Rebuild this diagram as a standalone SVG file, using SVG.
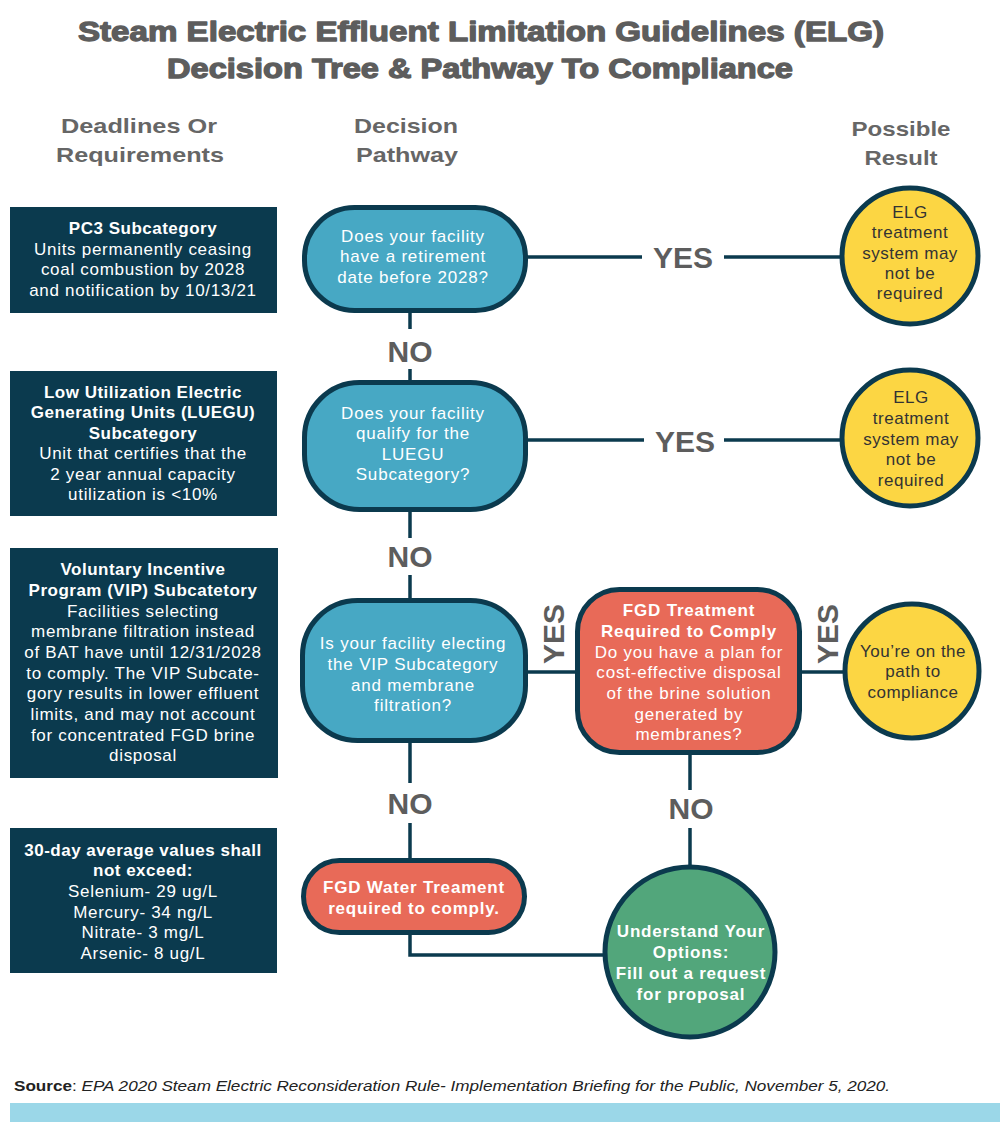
<svg xmlns="http://www.w3.org/2000/svg" width="1000" height="1122" viewBox="0 0 1000 1122">
<style>
.title{font-family:"Liberation Sans",Arial,sans-serif;font-weight:900;font-size:28px;fill:#5d5d5d;stroke:#5d5d5d;stroke-width:1.3;stroke-linejoin:round;text-anchor:middle}
.hdr{font-family:"Liberation Sans",Arial,sans-serif;font-weight:bold;font-size:21px;fill:#666;text-anchor:middle}
.box{fill:#0b3a4e}
.bt{font-family:"Liberation Sans",Arial,sans-serif;font-size:17px;letter-spacing:0.7px;fill:#fff;text-anchor:middle}
.bb{font-weight:bold;letter-spacing:0.5px}
.dec{fill:#47a8c4;stroke:#0b3a4e;stroke-width:5}
.red{fill:#e86a58;stroke:#0b3a4e;stroke-width:5}
.yel{fill:#fcd643;stroke:#0b3a4e;stroke-width:5}
.grn{fill:#52a67b;stroke:#0b3a4e;stroke-width:5}
.nt{font-family:"Liberation Sans",Arial,sans-serif;font-size:17px;letter-spacing:0.8px;fill:#fff;text-anchor:middle}
.yt{font-family:"Liberation Sans",Arial,sans-serif;font-size:17px;letter-spacing:0.5px;fill:#333;text-anchor:middle}
.lbl{font-family:"Liberation Sans",Arial,sans-serif;font-weight:900;font-size:30px;fill:#5d5d5d;text-anchor:middle}
.ln{stroke:#0b3a4e;stroke-width:3.5;fill:none}
.src{font-family:"Liberation Sans",Arial,sans-serif;font-size:15px;fill:#222}
</style>
<rect width="1000" height="1122" fill="#fff"/>
<g id="title">
<text class="title" x="481" y="41" textLength="806" lengthAdjust="spacingAndGlyphs">Steam Electric Effluent Limitation Guidelines (ELG)</text>
<text class="title" x="480" y="78" textLength="626" lengthAdjust="spacingAndGlyphs">Decision Tree &amp; Pathway To Compliance</text>
</g>
<g id="headers">
<text class="hdr" x="139" y="133" textLength="156" lengthAdjust="spacingAndGlyphs">Deadlines Or</text>
<text class="hdr" x="140" y="162" textLength="168" lengthAdjust="spacingAndGlyphs">Requirements</text>
<text class="hdr" x="406" y="133" textLength="104" lengthAdjust="spacingAndGlyphs">Decision</text>
<text class="hdr" x="407" y="162" textLength="102" lengthAdjust="spacingAndGlyphs">Pathway</text>
<text class="hdr" x="901" y="136" textLength="99" lengthAdjust="spacingAndGlyphs">Possible</text>
<text class="hdr" x="901" y="165" textLength="73" lengthAdjust="spacingAndGlyphs">Result</text>
</g>
<g id="connectors">
<line class="ln" x1="410" y1="312" x2="410" y2="329"/>
<line class="ln" x1="410" y1="369" x2="410" y2="381"/>
<line class="ln" x1="410" y1="511" x2="410" y2="538"/>
<line class="ln" x1="410" y1="575" x2="410" y2="600"/>
<line class="ln" x1="410" y1="741" x2="410" y2="783"/>
<line class="ln" x1="410" y1="823" x2="410" y2="860"/>
<polyline class="ln" points="410,934 410,955 604,955"/>
<line class="ln" x1="526" y1="257" x2="642" y2="257"/>
<line class="ln" x1="724" y1="257" x2="841" y2="257"/>
<line class="ln" x1="526" y1="440" x2="644" y2="440"/>
<line class="ln" x1="724" y1="440" x2="841" y2="440"/>
<line class="ln" x1="526" y1="672" x2="577" y2="672"/>
<line class="ln" x1="801" y1="672" x2="843" y2="672"/>
<line class="ln" x1="690" y1="754" x2="690" y2="790"/>
<line class="ln" x1="690" y1="828" x2="690" y2="866"/>
<text class="lbl" x="410" y="362">NO</text>
<text class="lbl" x="410" y="567">NO</text>
<text class="lbl" x="410" y="814">NO</text>
<text class="lbl" x="691" y="819">NO</text>
<text class="lbl" x="683" y="268">YES</text>
<text class="lbl" x="685" y="452">YES</text>
<text class="lbl" transform="translate(564,634) rotate(-90)" x="0" y="0">YES</text>
<text class="lbl" transform="translate(838,634) rotate(-90)" x="0" y="0">YES</text>
</g>
<g id="box-pc3">
<rect class="box" x="10" y="207" width="267" height="106"/>
<text class="bt bb" x="143" y="234">PC3 Subcategory</text>
<text class="bt" x="143" y="255">Units permanently ceasing</text>
<text class="bt" x="143" y="275">coal combustion by 2028</text>
<text class="bt" x="143" y="296">and notification by 10/13/21</text>
</g>
<g id="box-luegu">
<rect class="box" x="10" y="371" width="267" height="145"/>
<text class="bt bb" x="143" y="398">Low Utilization Electric</text>
<text class="bt bb" x="143" y="418">Generating Units (LUEGU)</text>
<text class="bt bb" x="143" y="439">Subcategory</text>
<text class="bt" x="143" y="459">Unit that certifies that the</text>
<text class="bt" x="143" y="480">2 year annual capacity</text>
<text class="bt" x="143" y="500">utilization is &lt;10%</text>
</g>
<g id="box-vip">
<rect class="box" x="10" y="548" width="268" height="230"/>
<text class="bt bb" x="143" y="575">Voluntary Incentive</text>
<text class="bt bb" x="143" y="596">Program (VIP) Subcatetory</text>
<text class="bt" x="143" y="617">Facilities selecting</text>
<text class="bt" x="143" y="637">membrane filtration instead</text>
<text class="bt" x="143" y="658">of BAT have until 12/31/2028</text>
<text class="bt" x="143" y="679">to comply. The VIP Subcate-</text>
<text class="bt" x="143" y="699">gory results in lower effluent</text>
<text class="bt" x="143" y="720">limits, and may not account</text>
<text class="bt" x="143" y="741">for concentrated FGD brine</text>
<text class="bt" x="143" y="761">disposal</text>
</g>
<g id="box-limits">
<rect class="box" x="10" y="828" width="267" height="145"/>
<text class="bt bb" x="143" y="856">30-day average values shall</text>
<text class="bt bb" x="143" y="876">not exceed:</text>
<text class="bt" x="143" y="897">Selenium- 29 ug/L</text>
<text class="bt" x="143" y="918">Mercury- 34 ng/L</text>
<text class="bt" x="143" y="938">Nitrate- 3 mg/L</text>
<text class="bt" x="143" y="959">Arsenic- 8 ug/L</text>
</g>
<g id="node-retirement">
<rect class="dec" x="304.5" y="207.5" width="221" height="103" rx="50" ry="50"/>
<text class="nt" x="413" y="242">Does your facility</text>
<text class="nt" x="413" y="262">have a retirement</text>
<text class="nt" x="413" y="283">date before 2028?</text>
</g>
<g id="node-luegu">
<rect class="dec" x="304.5" y="382.5" width="221" height="127" rx="55" ry="55"/>
<text class="nt" x="413" y="419">Does your facility</text>
<text class="nt" x="413" y="439">qualify for the</text>
<text class="nt" x="413" y="460">LUEGU</text>
<text class="nt" x="413" y="480">Subcategory?</text>
</g>
<g id="node-vip">
<rect class="dec" x="302.5" y="600.5" width="223" height="140" rx="55" ry="55"/>
<text class="nt" x="413" y="649">Is your facility electing</text>
<text class="nt" x="413" y="670">the VIP Subcategory</text>
<text class="nt" x="413" y="691">and membrane</text>
<text class="nt" x="413" y="711">filtration?</text>
</g>
<g id="node-fgd-treatment">
<rect class="red" x="577.5" y="589.5" width="222" height="163" rx="42" ry="42"/>
<text class="nt bb" x="689" y="616">FGD Treatment</text>
<text class="nt bb" x="689" y="637">Required to Comply</text>
<text class="nt" x="689" y="658">Do you have a plan for</text>
<text class="nt" x="689" y="678">cost-effective disposal</text>
<text class="nt" x="689" y="699">of the brine solution</text>
<text class="nt" x="689" y="720">generated by</text>
<text class="nt" x="689" y="740">membranes?</text>
</g>
<g id="node-fgd-water">
<rect class="red" x="303.5" y="860.5" width="221" height="72" rx="36" ry="36"/>
<text class="nt bb" x="414" y="893">FGD Water Treament</text>
<text class="nt bb" x="414" y="914">required to comply.</text>
</g>
<g id="result-1">
<circle class="yel" cx="910" cy="256" r="68"/>
<text class="yt" x="910" y="218">ELG</text>
<text class="yt" x="910" y="238">treatment</text>
<text class="yt" x="910" y="259">system may</text>
<text class="yt" x="910" y="279">not be</text>
<text class="yt" x="910" y="299">required</text>
</g>
<g id="result-2">
<circle class="yel" cx="910" cy="438" r="68"/>
<text class="yt" x="911" y="403">ELG</text>
<text class="yt" x="911" y="424">treatment</text>
<text class="yt" x="911" y="445">system may</text>
<text class="yt" x="911" y="465">not be</text>
<text class="yt" x="911" y="486">required</text>
</g>
<g id="result-3">
<circle class="yel" cx="912" cy="671" r="67"/>
<text class="yt" x="913" y="657">You’re on the</text>
<text class="yt" x="913" y="677">path to</text>
<text class="yt" x="913" y="698">compliance</text>
</g>
<g id="result-options">
<circle class="grn" cx="690" cy="952" r="85"/>
<text class="nt bb" x="691" y="937">Understand Your</text>
<text class="nt bb" x="691" y="958">Options:</text>
<text class="nt bb" x="691" y="979">Fill out a request</text>
<text class="nt bb" x="691" y="1000">for proposal</text>
</g>
<g id="footer">
<text class="src" x="14" y="1091" textLength="876" lengthAdjust="spacingAndGlyphs"><tspan font-weight="bold">Source</tspan>: <tspan font-style="italic">EPA 2020 Steam Electric Reconsideration Rule- Implementation Briefing for the Public, November 5, 2020.</tspan></text>
<rect x="10" y="1103" width="990" height="19" fill="#9bd7e8"/>
</g>
</svg>
